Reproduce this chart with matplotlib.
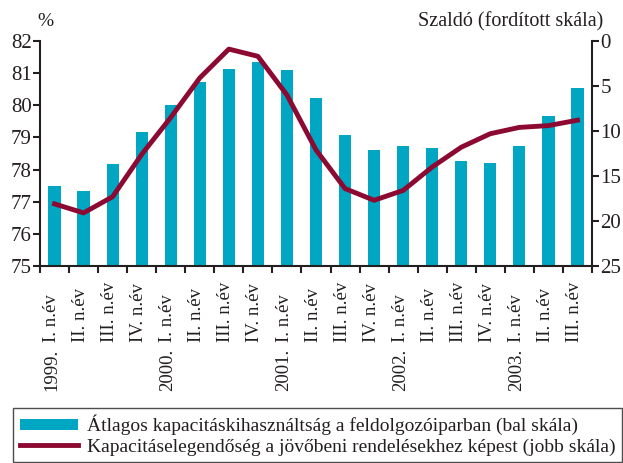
import matplotlib
matplotlib.use("Agg")
import matplotlib.pyplot as plt
import matplotlib.transforms as mtransforms
import numpy as np

years = ["1999.", "", "", "", "2000.", "", "", "", "2001.", "", "", "",
         "2002.", "", "", "", "2003.", "", ""]
quarters = ["I. n.év", "II. n.év", "III. n.év", "IV. n.év"] * 4 + ["I. n.év", "II. n.év", "III. n.év"]
utilization = [77.5, 77.33, 78.17, 79.17, 80.0, 80.72, 81.13, 81.35, 81.1, 80.23,
               79.07, 78.6, 78.73, 78.67, 78.27, 78.2, 78.73, 79.67, 80.54]
balance = [18.1, 19.1, 17.3, 12.6, 8.5, 4.1, 0.9, 1.7, 6.0, 12.1,
           16.4, 17.7, 16.6, 14.0, 11.8, 10.3, 9.6, 9.4, 8.8]

bar_color = "#00A6C2"
line_color = "#8C0A32"
text_color = "#231F20"

plt.rcParams['font.family'] = ['Liberation Serif', 'DejaVu Serif']
plt.rcParams['text.color'] = text_color
plt.rcParams['xtick.color'] = text_color
plt.rcParams['ytick.color'] = text_color

W, H = 623, 463
fig = plt.figure(figsize=(W/100, H/100), dpi=100)
ax = fig.add_axes([40/W, 1-266/H, 552/W, 225/H])
x = np.arange(len(quarters))
bars = ax.bar(x, [u - 75 for u in utilization], bottom=75, width=0.42, color=bar_color,
              label="Átlagos kapacitáskihasználtság a feldolgozóiparban (bal skála)", zorder=2)
ax.set_ylim(75, 82)
ax.set_xlim(-0.5, len(quarters) - 0.5)
ax.set_yticks(range(75, 83))
ax.tick_params(axis='y', labelsize=15, length=5, width=1.5, direction='out', pad=1)
ax.set_xticks(x)
ax.set_xticklabels([])
ax.set_xticks(np.arange(-0.5, len(quarters), 1.0), minor=True)
ax.tick_params(axis='x', which='major', length=0)
ax.tick_params(axis='x', which='minor', length=5, width=1.5, direction='out')
for s in ['top', 'right']:
    ax.spines[s].set_visible(False)
for s in ['left', 'bottom']:
    ax.spines[s].set_linewidth(1.5)
    ax.spines[s].set_color(text_color)

trans = mtransforms.blended_transform_factory(ax.transData, fig.transFigure)
for i, (yr, q) in enumerate(zip(years, quarters)):
    ax.text(i - 0.1, 1 - 342/H, q, transform=trans, rotation=90, ha='center', va='bottom',
            fontsize=13.5)
    if yr:
        ax.text(i - 0.1, 1 - 349/H, yr, transform=trans, rotation=90, ha='center', va='top',
                fontsize=13.5)

ax2 = ax.twinx()
line, = ax2.plot(x, balance, color=line_color, lw=3.5, zorder=3,
                 label="Kapacitáselegendőség a jövőbeni rendelésekhez képest (jobb skála)")
ax2.set_ylim(25, 0)
ax2.set_yticks(range(0, 26, 5))
ax2.tick_params(axis='y', labelsize=15, length=5, width=1.5, direction='out', pad=1)
for s in ['top', 'left', 'bottom']:
    ax2.spines[s].set_visible(False)
ax2.spines['right'].set_linewidth(1.5)
ax2.spines['right'].set_color(text_color)
ax.set_zorder(1)
ax2.set_zorder(2)
ax.patch.set_visible(False)

fig.text(45/W, 1-22/H, "%", fontsize=14, ha='center', va='center')
fig.text(603/W, 1-22/H, "Szaldó (fordított skála)", fontsize=14.5, ha='right', va='center')

leg = fig.legend(handles=[bars, line], loc='upper left',
                 bbox_to_anchor=(13/W, 1-408/H), ncol=1, fontsize=14,
                 frameon=True, fancybox=False, edgecolor=text_color, handlelength=3.0,
                 handleheight=0.45, borderaxespad=0, borderpad=0.35, labelspacing=0.15,
                 handletextpad=0.45)
leg.get_frame().set_linewidth(1.0)

fig.savefig("out.png", dpi=100)
